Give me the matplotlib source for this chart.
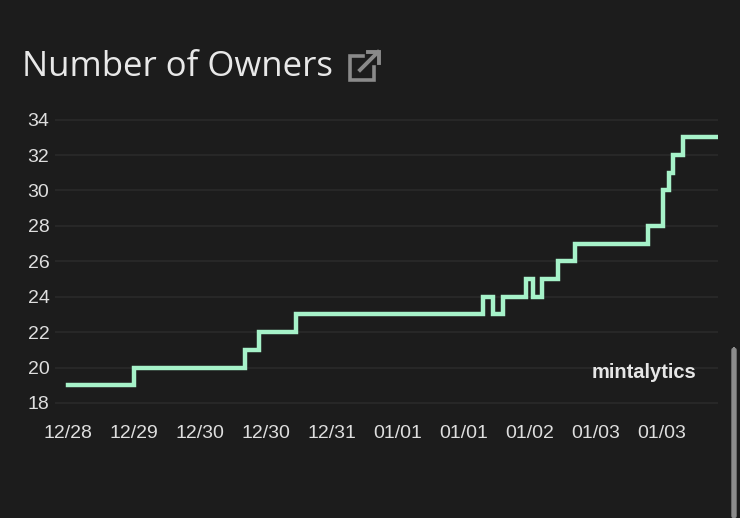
import matplotlib
matplotlib.use('Agg')
import matplotlib.pyplot as plt
from matplotlib.lines import Line2D
from matplotlib.patches import FancyBboxPatch

# step positions (in tick units) and owner counts
xs = [0.0, 1.0, 2.68, 2.9, 3.45, 6.29, 6.44, 6.59, 6.94, 7.05, 7.18, 7.42, 7.68,
      8.79, 9.02, 9.1, 9.17, 9.32, 9.85]
owners = [19, 20, 21, 22, 23, 24, 23, 24, 25, 24, 25, 26, 27,
          28, 30, 31, 32, 33, 33]
tick_labels = ['12/28', '12/29', '12/30', '12/30', '12/31',
               '01/01', '01/01', '01/02', '01/03', '01/03']
yticks = [18, 20, 22, 24, 26, 28, 30, 32, 34]

bg = '#1c1c1c'
W, H = 740, 518
fig = plt.figure(figsize=[7.4, 5.18], dpi=100, facecolor=bg)

# axes placed in pixel terms
left, right, top, bottom = 55, 718, 109, 418
ax = fig.add_axes([left / W, 1 - bottom / H, (right - left) / W, (bottom - top) / H])
ax.set_facecolor(bg)

ax.plot(xs, owners, drawstyle='steps-post', color='#a6f2c9', lw=3.2,
        solid_joinstyle='miter', zorder=3)

ax.set_xlim(-0.197, 9.85)
ax.set_ylim(17.15, 34.6)
ax.set_xticks(range(len(tick_labels)))
ax.set_xticklabels(tick_labels)
ax.set_yticks(yticks)
ax.grid(axis='y', color='#2a2a2a', lw=1.2)
ax.grid(axis='x', visible=False)
for s in ax.spines.values():
    s.set_visible(False)
ax.tick_params(length=0, colors='#dedede', labelsize=14)
ax.tick_params(axis='y', pad=4)
ax.tick_params(axis='x', pad=5)
for lab in ax.get_xticklabels() + ax.get_yticklabels():
    lab.set_family('Liberation Sans')
for lab in ax.get_yticklabels():
    lab.set_horizontalalignment('right')

# title
fig.text(22 / W, 1 - 67 / H, 'Number of Owners', fontsize=25, color='#e8e8e8',
         family='Open Sans', va='center', ha='left')

# external link icon
ic = '#8a8a8a'
def px(x, y):
    return x / W, 1 - y / H
box = [(363, 56), (350, 56), (350, 80), (374, 80), (374, 67)]
fig.add_artist(Line2D([px(*p)[0] for p in box], [px(*p)[1] for p in box],
                      color=ic, lw=2.6, solid_joinstyle='miter'))
fig.add_artist(Line2D([px(360, 70)[0], px(378, 52)[0]], [px(360, 70)[1], px(378, 52)[1]],
                      color=ic, lw=2.8))
head = [(368, 52), (379, 52), (379, 63)]
fig.add_artist(Line2D([px(*p)[0] for p in head], [px(*p)[1] for p in head],
                      color=ic, lw=2.8, solid_joinstyle='miter'))

# watermark
fig.text(644 / W, 1 - 372 / H, 'mintalytics', fontsize=14.5, fontweight='bold',
         color='#e6e6e6', family='Liberation Sans', ha='center', va='center')

# scrollbar
fig.add_artist(FancyBboxPatch((732 / W, 0), 4 / W, 170 / H,
                              boxstyle='round,pad=0,rounding_size=0.004',
                              transform=fig.transFigure, color='#8c8c8c'))

fig.savefig('out.png', dpi=100, facecolor=bg)
